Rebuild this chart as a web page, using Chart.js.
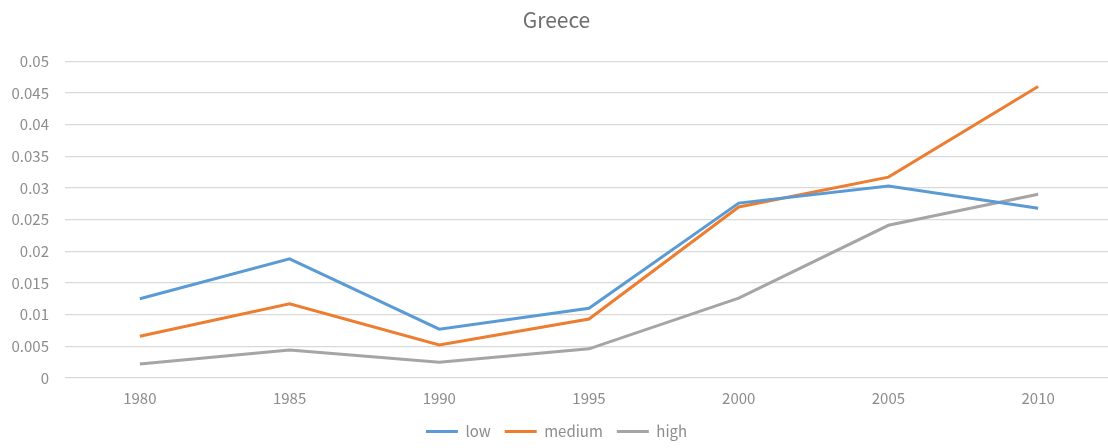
<!DOCTYPE html>
<html>
<head>
<meta charset="utf-8">
<script src="https://cdn.jsdelivr.net/npm/chart.js@4/dist/chart.umd.min.js"></script>
<style>
  html, body { margin: 0; padding: 0; background: #fff; overflow: hidden; }
  #wrap { position: relative; width: 1113px; height: 449px; }
</style>
</head>
<body>
<div id="wrap"><canvas id="greece"></canvas></div>
<script>
// Greece, share by level, 1980-2010
var years = ['1980', '1985', '1990', '1995', '2000', '2005', '2010'];
var low = [0.0125, 0.0188, 0.0077, 0.0110, 0.0276, 0.0303, 0.0268];
var medium = [0.0066, 0.0117, 0.0052, 0.0093, 0.0270, 0.0317, 0.0460];
var high = [0.0022, 0.0044, 0.0025, 0.0046, 0.0126, 0.0241, 0.0290];
var yTicks = [0, 0.005, 0.01, 0.015, 0.02, 0.025, 0.03, 0.035, 0.04, 0.045, 0.05];

var FONT = '"Noto Sans CJK JP", "Noto Sans", sans-serif';
var GREY = '#8c8c8c';

function series(label, data, color) {
  return {
    label: label, data: data, borderColor: color, backgroundColor: color,
    borderWidth: 3, pointRadius: 0, tension: 0, fill: false
  };
}

new Chart(document.getElementById('greece'), {
  type: 'line',
  data: {
    labels: years,
    datasets: [
      series('low', low, '#5b9bd5'),
      series('medium', medium, '#ed7d31'),
      series('high', high, '#a5a5a5')
    ]
  },
  options: {
    responsive: true, maintainAspectRatio: false, animation: false,
    layout: { padding: { top: 7, left: 0, right: 0, bottom: 0 } },
    plugins: {
      title: {
        display: true, text: 'Greece', color: '#6e6e6e',
        font: { family: FONT, size: 21, weight: 'normal' },
        padding: { top: 0, bottom: 29 }
      },
      legend: {
        position: 'bottom',
        labels: {
          color: GREY, font: { family: FONT, size: 15 },
          usePointStyle: true, pointStyle: 'line', pointStyleWidth: 32,
          boxHeight: 3, padding: 14
        }
      },
      tooltip: { enabled: false }
    },
    scales: {
      x: {
        offset: true,
        grid: { display: false },
        border: { display: false },
        ticks: { color: GREY, font: { family: FONT, size: 15 }, padding: 3 }
      },
      y: {
        min: 0, max: 0.05,
        afterFit: function (s) { s.width = 65; },
        afterBuildTicks: function (s) { s.ticks = yTicks.map(function (v) { return { value: v }; }); },
        grid: { color: '#d9d9d9', lineWidth: 1.3, drawTicks: false },
        border: { display: false },
        ticks: {
          color: GREY, font: { family: FONT, size: 15 }, padding: 16,
          callback: function (v) { return String(+v.toFixed(3)); }
        }
      }
    }
  }
});
</script>
</body>
</html>
